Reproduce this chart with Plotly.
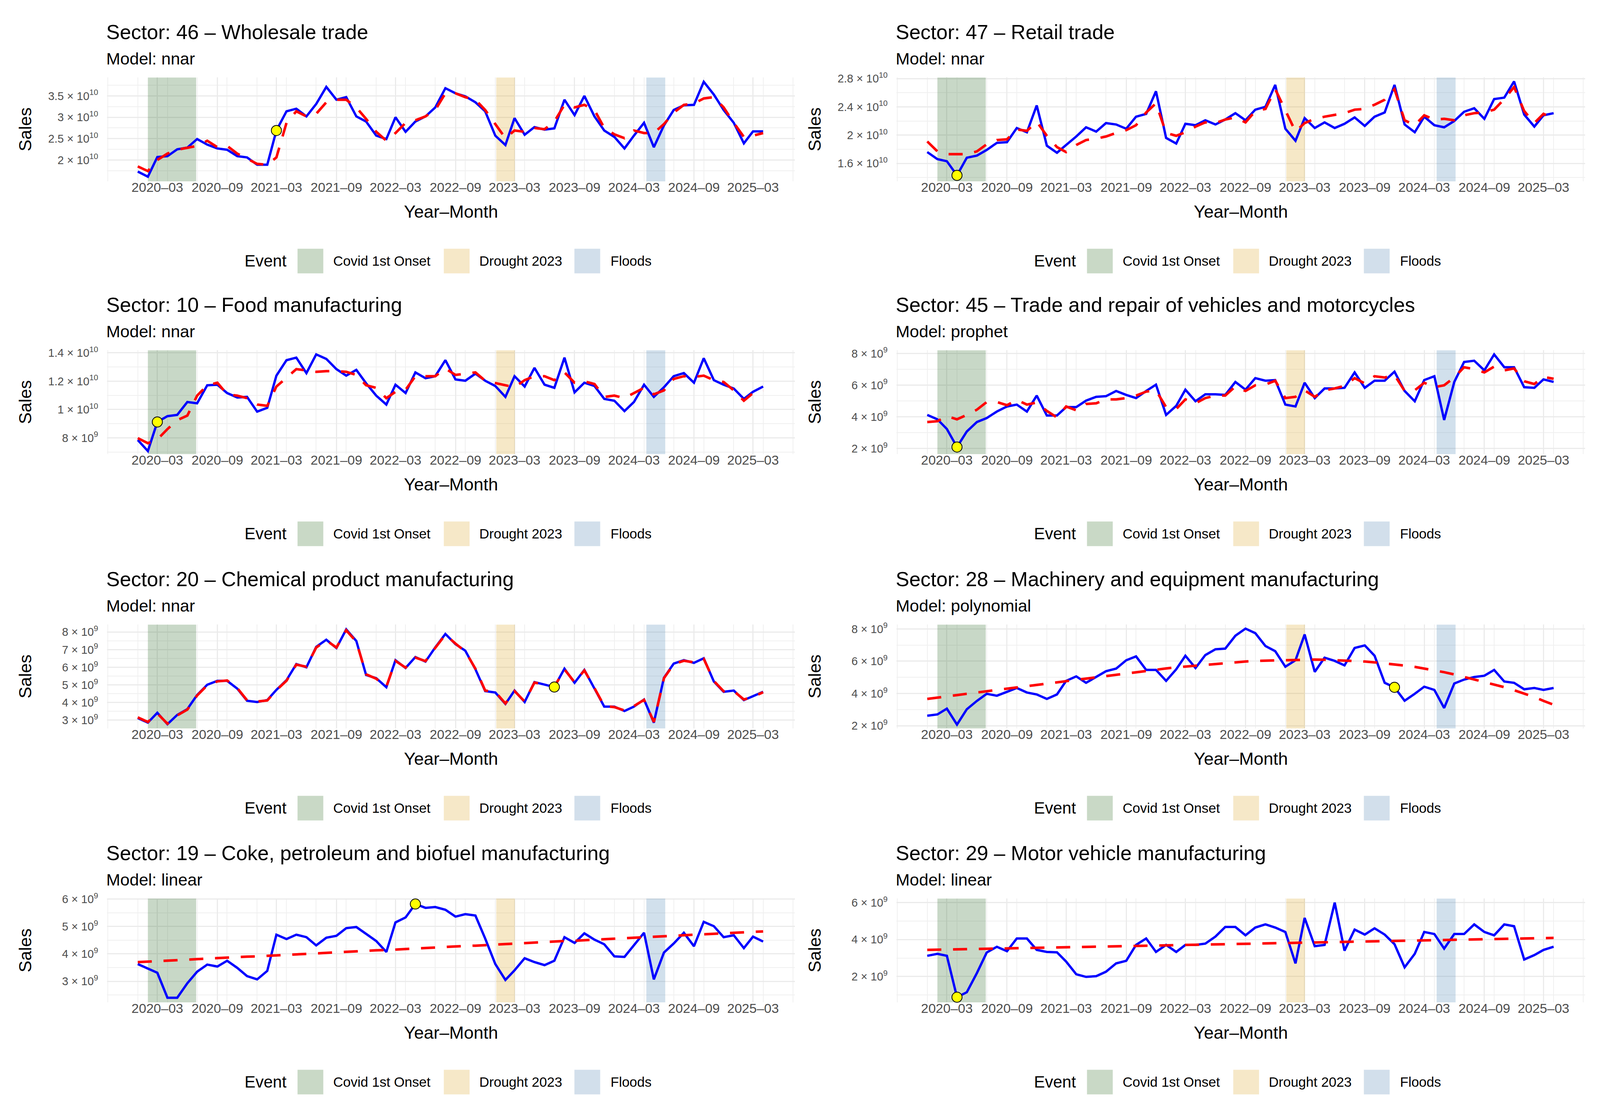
import numpy as np
import pandas as pd
import plotly.graph_objects as go

# reference frame used for placing things; the figure itself is drawn a bit
# narrower so that the whole page fits in the captured area
W, H = 4358, 2843
FIG_W, FIG_H = 4070, 2827
FONT = "Liberation Sans, Arial, sans-serif"

# monthly observations, Jan 2020 .. Apr 2025
months = pd.date_range("2020-01-01", periods=64, freq="MS")

# all sales values below are in billions (x 1e9)
sales_46 = [17.3, 16.1, 20.7, 20.9, 22.5, 22.9, 24.9, 23.6, 22.7, 22.4,
            20.9, 20.6, 18.9, 18.9, 26.9, 31.4, 32.0, 30.2, 33.1, 37.1,
            34.1, 34.7, 30.2, 29.0, 25.7, 24.9, 30.0, 26.6, 29.0, 30.2,
            32.3, 36.8, 35.6, 34.9, 33.5, 31.4, 25.7, 23.5, 29.8, 25.9,
            27.7, 27.1, 27.4, 34.1, 30.5, 35.0, 30.2, 26.9, 25.4, 22.7,
            25.7, 28.7, 23.0, 28.1, 31.7, 32.8, 32.9, 38.3, 35.3, 31.7,
            28.7, 23.9, 26.7, 26.7]
fit_46 = [18.5, 17.4, 20.0, 21.5, 22.4, 22.8, 23.3, 24.5, 23.0, 23.3,
          21.5, 20.3, 19.1, 18.9, 20.6, 28.7, 31.4, 30.2, 30.8, 33.5,
          34.1, 34.1, 32.3, 29.6, 26.6, 24.5, 26.3, 28.7, 29.3, 30.2,
          31.7, 35.6, 35.6, 34.7, 34.1, 31.7, 28.4, 25.1, 26.9, 26.6,
          27.5, 27.2, 29.0, 32.9, 32.3, 32.9, 31.7, 27.5, 26.0, 25.1,
          26.9, 26.3, 26.3, 28.4, 31.1, 32.9, 33.2, 34.4, 34.7, 32.3,
          28.7, 25.4, 25.7, 26.3]

sales_47 = [17.6, 16.6, 16.3, 14.3, 16.8, 17.1, 17.9, 18.9, 19.0, 21.0,
            20.4, 24.2, 18.5, 17.5, 18.6, 19.8, 21.1, 20.5, 21.7, 21.5,
            20.9, 22.6, 23.0, 26.2, 19.6, 18.8, 21.6, 21.4, 22.1, 21.5,
            22.2, 23.1, 22.1, 23.6, 24.0, 27.1, 20.9, 19.2, 22.4, 21.0,
            21.8, 21.0, 21.6, 22.5, 21.3, 22.6, 23.2, 27.1, 21.5, 20.4,
            22.6, 21.4, 21.1, 22.0, 23.3, 23.8, 22.3, 25.1, 25.3, 27.6,
            22.9, 21.2, 22.8, 23.1]
fit_47 = [19.1, 17.7, 17.3, 17.3, 17.3, 17.7, 18.7, 19.3, 19.4, 20.8,
          20.6, 21.9, 19.9, 18.3, 17.6, 18.6, 19.3, 19.5, 19.8, 20.3,
          20.7, 21.4, 23.2, 24.5, 20.3, 19.9, 20.4, 21.2, 21.8, 21.7,
          22.2, 22.5, 21.8, 23.4, 23.7, 26.5, 23.4, 20.5, 21.7, 22.3,
          22.6, 22.9, 23.1, 23.6, 23.7, 24.3, 25.0, 26.5, 22.1, 21.4,
          22.8, 22.2, 22.3, 22.1, 22.8, 23.1, 23.2, 23.6, 25.1, 26.8,
          23.4, 21.7, 23.0, 22.4]

sales_10 = [7.85, 7.07, 9.12, 9.53, 9.62, 10.53, 10.44, 11.71, 11.75, 11.16,
            10.85, 10.89, 9.85, 10.12, 12.39, 13.48, 13.66, 12.57, 13.89, 13.57,
            12.85, 12.39, 12.80, 11.85, 10.98, 10.35, 11.75, 11.16, 12.62, 12.21,
            12.35, 13.48, 12.12, 12.03, 12.53, 12.03, 11.66, 10.89, 12.35, 11.62,
            12.94, 11.75, 11.53, 13.66, 11.21, 11.89, 11.66, 10.75, 10.62, 9.89,
            10.53, 11.75, 10.89, 11.57, 12.35, 12.57, 11.89, 13.62, 12.07, 11.75,
            11.48, 10.75, 11.25, 11.62]
fit_10 = [7.98, 7.62, 7.89, 8.62, 9.25, 9.57, 10.98, 11.71, 11.89, 11.07,
          10.98, 10.80, 10.35, 10.26, 11.62, 12.25, 12.85, 12.76, 12.66, 12.71,
          12.71, 12.66, 12.44, 11.71, 11.53, 10.80, 11.25, 11.39, 12.35, 12.35,
          12.35, 12.89, 12.44, 12.53, 12.62, 12.03, 11.89, 11.71, 11.57, 12.07,
          12.35, 12.35, 12.07, 12.62, 11.89, 11.98, 11.80, 10.89, 10.98, 10.80,
          11.16, 11.53, 11.07, 11.35, 12.16, 12.35, 12.30, 12.39, 12.07, 11.94,
          11.35, 10.62, 11.16, 11.35]

sales_45 = [4.12, 3.84, 3.23, 2.09, 3.07, 3.67, 3.92, 4.33, 4.65, 4.77,
            4.33, 5.34, 4.08, 4.08, 4.61, 4.61, 5.02, 5.26, 5.30, 5.63,
            5.38, 5.18, 5.63, 6.03, 4.12, 4.69, 5.71, 4.98, 5.42, 5.42,
            5.38, 6.20, 5.71, 6.44, 6.28, 6.32, 4.77, 4.65, 6.15, 5.18,
            5.79, 5.79, 5.83, 6.80, 5.83, 6.28, 6.28, 6.85, 5.63, 4.98,
            6.32, 6.56, 3.80, 6.20, 7.46, 7.54, 6.93, 7.94, 7.13, 7.13,
            5.87, 5.83, 6.36, 6.20]
fit_45 = [3.67, 3.72, 4.04, 3.84, 4.12, 4.45, 4.93, 4.93, 4.73, 5.06,
          4.77, 4.90, 4.37, 3.96, 4.65, 4.41, 4.81, 4.85, 5.10, 5.10,
          5.18, 5.34, 5.59, 5.67, 4.61, 4.49, 5.10, 4.85, 5.18, 5.34,
          5.34, 5.91, 5.63, 5.99, 6.03, 6.28, 5.18, 5.26, 5.67, 5.26,
          5.67, 5.79, 5.95, 6.44, 6.11, 6.56, 6.48, 6.64, 5.63, 5.67,
          6.15, 5.87, 5.99, 6.48, 7.13, 7.01, 6.80, 7.17, 6.93, 7.05,
          6.24, 6.07, 6.52, 6.40]

sales_20 = [3.12, 2.86, 3.42, 2.77, 3.30, 3.63, 4.43, 5.01, 5.23, 5.23,
            4.79, 4.10, 4.03, 4.14, 4.72, 5.27, 6.18, 6.00, 7.16, 7.56,
            7.09, 8.15, 7.49, 5.56, 5.38, 4.87, 6.40, 5.96, 6.58, 6.32,
            7.13, 7.89, 7.31, 6.94, 5.89, 4.65, 4.57, 3.92, 4.68, 4.03,
            5.16, 5.01, 4.88, 5.92, 5.12, 5.85, 4.79, 3.77, 3.77, 3.52,
            3.77, 4.17, 2.86, 5.41, 6.21, 6.40, 6.25, 6.51, 5.19, 4.61,
            4.68, 4.14, 4.36, 4.61]
fit_20 = [3.16, 2.90, 3.38, 2.80, 3.27, 3.60, 4.40, 4.98, 5.20, 5.25,
          4.82, 4.13, 4.06, 4.12, 4.70, 5.24, 6.15, 6.03, 7.12, 7.52,
          7.12, 8.10, 7.45, 5.60, 5.35, 4.90, 6.36, 5.98, 6.55, 6.35,
          7.10, 7.85, 7.34, 6.90, 5.92, 4.68, 4.60, 3.95, 4.65, 4.06,
          5.13, 5.04, 4.90, 5.88, 5.15, 5.82, 4.82, 3.80, 3.74, 3.55,
          3.80, 4.15, 2.90, 5.38, 6.18, 6.37, 6.28, 6.48, 5.22, 4.64,
          4.65, 4.17, 4.33, 4.58]

sales_28 = [2.62, 2.70, 3.06, 2.07, 3.02, 3.54, 3.98, 3.86, 4.10, 4.34,
            4.06, 3.94, 3.66, 3.94, 4.78, 5.06, 4.66, 5.02, 5.38, 5.54,
            6.06, 6.30, 5.46, 5.46, 4.78, 5.50, 6.34, 5.58, 6.38, 6.74,
            6.78, 7.58, 8.02, 7.74, 6.94, 6.62, 5.66, 6.06, 7.66, 5.34,
            6.22, 6.02, 5.74, 6.82, 6.98, 6.34, 4.66, 4.38, 3.55, 3.98,
            4.42, 4.22, 3.10, 4.62, 4.86, 5.02, 5.10, 5.46, 4.74, 4.66,
            4.26, 4.34, 4.22, 4.34]
fit_28 = [3.66, 3.73, 3.81, 3.90, 3.98, 4.06, 4.14, 4.22, 4.32, 4.40,
          4.48, 4.55, 4.63, 4.71, 4.79, 4.86, 4.94, 5.02, 5.09, 5.17,
          5.25, 5.32, 5.40, 5.47, 5.55, 5.62, 5.67, 5.73, 5.79, 5.84,
          5.89, 5.94, 5.98, 6.02, 6.04, 6.05, 6.06, 6.08, 6.09, 6.10,
          6.09, 6.07, 6.05, 6.02, 5.98, 5.93, 5.87, 5.80, 5.73, 5.65,
          5.55, 5.44, 5.32, 5.18, 5.03, 4.88, 4.73, 4.56, 4.39, 4.20,
          3.99, 3.78, 3.54, 3.30]

sales_19 = [3.63, 3.47, 3.31, 2.40, 2.40, 2.93, 3.35, 3.61, 3.54, 3.75,
            3.49, 3.19, 3.07, 3.38, 4.70, 4.54, 4.70, 4.61, 4.31, 4.59,
            4.66, 4.94, 4.98, 4.73, 4.47, 4.07, 5.15, 5.33, 5.82, 5.68,
            5.71, 5.61, 5.36, 5.45, 5.40, 4.56, 3.63, 3.05, 3.40, 3.84,
            3.70, 3.59, 3.75, 4.61, 4.40, 4.75, 4.52, 4.35, 3.91, 3.89,
            4.33, 4.77, 3.07, 4.05, 4.38, 4.77, 4.28, 5.17, 5.01, 4.61,
            4.68, 4.21, 4.63, 4.45]
fit_19 = [3.70, 3.72, 3.74, 3.75, 3.77, 3.79, 3.81, 3.82, 3.84, 3.86,
          3.88, 3.90, 3.91, 3.93, 3.95, 3.97, 3.98, 4.00, 4.02, 4.04,
          4.06, 4.07, 4.09, 4.11, 4.13, 4.14, 4.16, 4.18, 4.20, 4.22,
          4.23, 4.25, 4.27, 4.29, 4.30, 4.32, 4.34, 4.36, 4.38, 4.39,
          4.41, 4.43, 4.45, 4.47, 4.48, 4.50, 4.52, 4.54, 4.55, 4.57,
          4.59, 4.61, 4.63, 4.64, 4.66, 4.68, 4.70, 4.71, 4.73, 4.75,
          4.77, 4.79, 4.80, 4.82]

sales_29 = [3.12, 3.23, 3.12, 0.88, 1.15, 2.19, 3.30, 3.61, 3.37, 4.06,
            4.06, 3.44, 3.33, 3.31, 2.81, 2.12, 1.98, 2.02, 2.26, 2.71,
            2.85, 3.71, 4.06, 3.33, 3.71, 3.33, 3.71, 3.71, 3.78, 4.16,
            4.68, 4.68, 4.23, 4.65, 4.82, 4.65, 4.41, 2.71, 5.17, 3.64,
            3.71, 6.00, 3.40, 4.54, 4.27, 4.61, 4.27, 3.75, 2.50, 3.23,
            4.41, 4.30, 3.51, 4.30, 4.30, 4.82, 4.41, 4.23, 4.82, 4.72,
            2.92, 3.16, 3.44, 3.61]
fit_29 = [3.44, 3.45, 3.46, 3.47, 3.48, 3.49, 3.50, 3.51, 3.52, 3.53,
          3.54, 3.55, 3.56, 3.57, 3.58, 3.59, 3.60, 3.61, 3.63, 3.64,
          3.65, 3.66, 3.67, 3.68, 3.69, 3.70, 3.71, 3.72, 3.73, 3.74,
          3.75, 3.76, 3.77, 3.78, 3.79, 3.80, 3.81, 3.82, 3.83, 3.84,
          3.85, 3.86, 3.87, 3.88, 3.89, 3.90, 3.91, 3.92, 3.93, 3.94,
          3.96, 3.97, 3.98, 3.99, 4.00, 4.01, 4.02, 4.03, 4.04, 4.05,
          4.06, 4.07, 4.08, 4.09]

sector_titles = ["Sector: 46 – Wholesale trade",
                 "Sector: 47 – Retail trade",
                 "Sector: 10 – Food manufacturing",
                 "Sector: 45 – Trade and repair of vehicles and motorcycles",
                 "Sector: 20 – Chemical product manufacturing",
                 "Sector: 28 – Machinery and equipment manufacturing",
                 "Sector: 19 – Coke, petroleum and biofuel manufacturing",
                 "Sector: 29 – Motor vehicle manufacturing"]
model_names = ["nnar", "nnar", "nnar", "prophet", "nnar", "polynomial", "linear", "linear"]
actual_series = [sales_46, sales_47, sales_10, sales_45, sales_20, sales_28, sales_19, sales_29]
fitted_series = [fit_46, fit_47, fit_10, fit_45, fit_20, fit_28, fit_19, fit_29]
# month flagged with the yellow dot in each panel
flag_months = ["2021-03-01", "2020-04-01", "2020-03-01", "2020-04-01",
               "2023-07-01", "2023-12-01", "2022-05-01", "2020-04-01"]

# y axis setup (billions)
y_ranges = [[15.0, 39.3], [13.45, 28.15], [6.85, 14.18], [1.64, 8.2],
            [2.53, 8.42], [1.83, 8.27], [2.23, 6.02], [0.6, 6.22]]
y_ticks = [[20, 25, 30, 35], [16, 20, 24, 28], [8, 10, 12, 14], [2, 4, 6, 8],
           [3, 4, 5, 6, 7, 8], [2, 4, 6, 8], [3, 4, 5, 6], [2, 4, 6]]
y_minor = [[17.5, 22.5, 27.5, 32.5, 37.5], [14, 18, 22, 26], [7, 9, 11, 13], [3, 5, 7],
           [2.5, 3.5, 4.5, 5.5, 6.5, 7.5], [3, 5, 7], [2.5, 3.5, 4.5, 5.5], [1, 3, 5]]

event_names = ["Covid 1st Onset", "Drought 2023", "Floods"]
event_start = ["2020-02-01", "2023-01-04", "2024-04-08"]
event_end = ["2020-06-28", "2023-03-02", "2024-06-05"]
event_fill = ["rgba(34,100,30,0.25)", "rgba(218,165,32,0.25)", "rgba(70,130,180,0.25)"]
event_key = ["#C9D9C6", "#F6E8C8", "#D2DFEB"]

# layout in reference pixels
col_x0 = [285, 2449]
col_x1 = [2170, 4337]
row_top = [174, 883, 1596, 2308]
plot_h = 270


def px(x):
    return x / W


def py(y):
    return 1 - y / H


def sci_label(v):
    if v >= 10:
        m, e = v / 10, 10
    else:
        m, e = v, 9
    return f"{m:g} × 10<sup>{e}</sup>"


fig = go.Figure()
shapes = []
annotations = []
layout_axes = {}

for i in range(8):
    row, col = i // 2, i % 2
    x0, x1 = col_x0[col], col_x1[col]
    top = row_top[row]
    n = "" if i == 0 else str(i + 1)
    xa, ya = "x" + n, "y" + n
    lo, hi = y_ranges[i][0] * 1e9, y_ranges[i][1] * 1e9

    # event bands as filled traces so they sit above the grid but below the lines
    for j in range(3):
        s, e = event_start[j], event_end[j]
        fig.add_trace(go.Scatter(x=[s, e, e, s, s], y=[lo, lo, hi, hi, lo], mode="lines",
                                 fill="toself", fillcolor=event_fill[j], line=dict(width=0),
                                 xaxis=xa, yaxis=ya, hoverinfo="skip", showlegend=False))

    actual = np.array(actual_series[i]) * 1e9
    fitted = np.array(fitted_series[i]) * 1e9

    fig.add_trace(go.Scatter(x=months, y=actual, mode="lines", xaxis=xa, yaxis=ya,
                             line=dict(color="#0000FF", width=6), showlegend=False))
    fig.add_trace(go.Scatter(x=months, y=fitted, mode="lines", xaxis=xa, yaxis=ya,
                             line=dict(color="#FF0000", width=6.5, dash="36px,30px"),
                             showlegend=False))
    k = list(months).index(pd.Timestamp(flag_months[i]))
    fig.add_trace(go.Scatter(x=[months[k]], y=[actual[k]], mode="markers", xaxis=xa, yaxis=ya,
                             marker=dict(color="yellow", size=26, line=dict(color="black", width=2)),
                             showlegend=False, cliponaxis=False))

    layout_axes["xaxis" + n] = dict(
        domain=[px(x0), px(x1)], anchor=ya, type="date",
        range=["2019-09-29", "2025-07-07"],
        tick0="2020-03-01", dtick="M6", tickformat="%Y–%m",
        showgrid=True, gridcolor="#EBEBEB", gridwidth=3,
        minor=dict(dtick="M3", showgrid=True, gridcolor="#F0F0F0", gridwidth=2),
        zeroline=False, showline=False, ticks="",
        tickfont=dict(family=FONT, size=34, color="#4D4D4D"),
        ticklabelstandoff=-8,
    )
    tv = y_ticks[i]
    layout_axes["yaxis" + n] = dict(
        domain=[py(top + plot_h), py(top)], anchor=xa,
        range=[lo, hi],
        tickmode="array", tickvals=[v * 1e9 for v in tv], ticktext=[sci_label(v) for v in tv],
        showgrid=True, gridcolor="#EBEBEB", gridwidth=3,
        minor=dict(tickmode="array", tickvals=[v * 1e9 for v in y_minor[i]], showgrid=True,
                   gridcolor="#F0F0F0", gridwidth=2),
        zeroline=False, showline=False, ticks="outside", ticklen=16, tickcolor="rgba(0,0,0,0)",
        tickfont=dict(family=FONT, size=29, color="#4D4D4D"),
    )

    # titles
    annotations.append(dict(text=sector_titles[i], x=px(x0 - 4), y=py(top - 118), xref="paper", yref="paper",
                            xanchor="left", yanchor="middle", showarrow=False,
                            font=dict(family=FONT, size=52, color="black")))
    annotations.append(dict(text="Model: " + model_names[i], x=px(x0 - 4), y=py(top - 49), xref="paper",
                            yref="paper", xanchor="left", yanchor="middle", showarrow=False,
                            font=dict(family=FONT, size=43, color="black")))
    # axis titles
    annotations.append(dict(text="Sales", x=px(x0 - 225), y=py(top + plot_h / 2), xref="paper", yref="paper",
                            xanchor="center", yanchor="middle", textangle=-90, showarrow=False,
                            font=dict(family=FONT, size=45, color="black")))
    annotations.append(dict(text="Year–Month", x=px((x0 + x1) / 2), y=py(top + 349), xref="paper",
                            yref="paper", xanchor="center", yanchor="middle", showarrow=False,
                            font=dict(family=FONT, size=45, color="black")))

    # legend drawn by hand under each panel
    ly = top + 477
    annotations.append(dict(text="Event", x=px(x0 + 375), y=py(ly), xref="paper", yref="paper",
                            xanchor="left", yanchor="middle", showarrow=False,
                            font=dict(family=FONT, size=42, color="black")))
    key_left = [522, 923, 1281]
    text_left = [618, 1018, 1378]
    for j in range(3):
        shapes.append(dict(type="rect", xref="paper", yref="paper",
                           x0=px(x0 + key_left[j]), x1=px(x0 + key_left[j]) + 66 / FIG_W,
                           y0=py(ly + 32), y1=py(ly - 32),
                           fillcolor=event_key[j], line=dict(width=0)))
        annotations.append(dict(text=event_names[j], x=px(x0 + text_left[j]), y=py(ly), xref="paper",
                                yref="paper", xanchor="left", yanchor="middle", showarrow=False,
                                font=dict(family=FONT, size=35, color="black")))

fig.update_layout(
    width=FIG_W, height=FIG_H,
    margin=dict(l=0, r=0, t=0, b=0),
    paper_bgcolor="white", plot_bgcolor="white",
    showlegend=False,
    shapes=shapes, annotations=annotations,
    font=dict(family=FONT),
    **layout_axes,
)

fig.write_html("out.html")
